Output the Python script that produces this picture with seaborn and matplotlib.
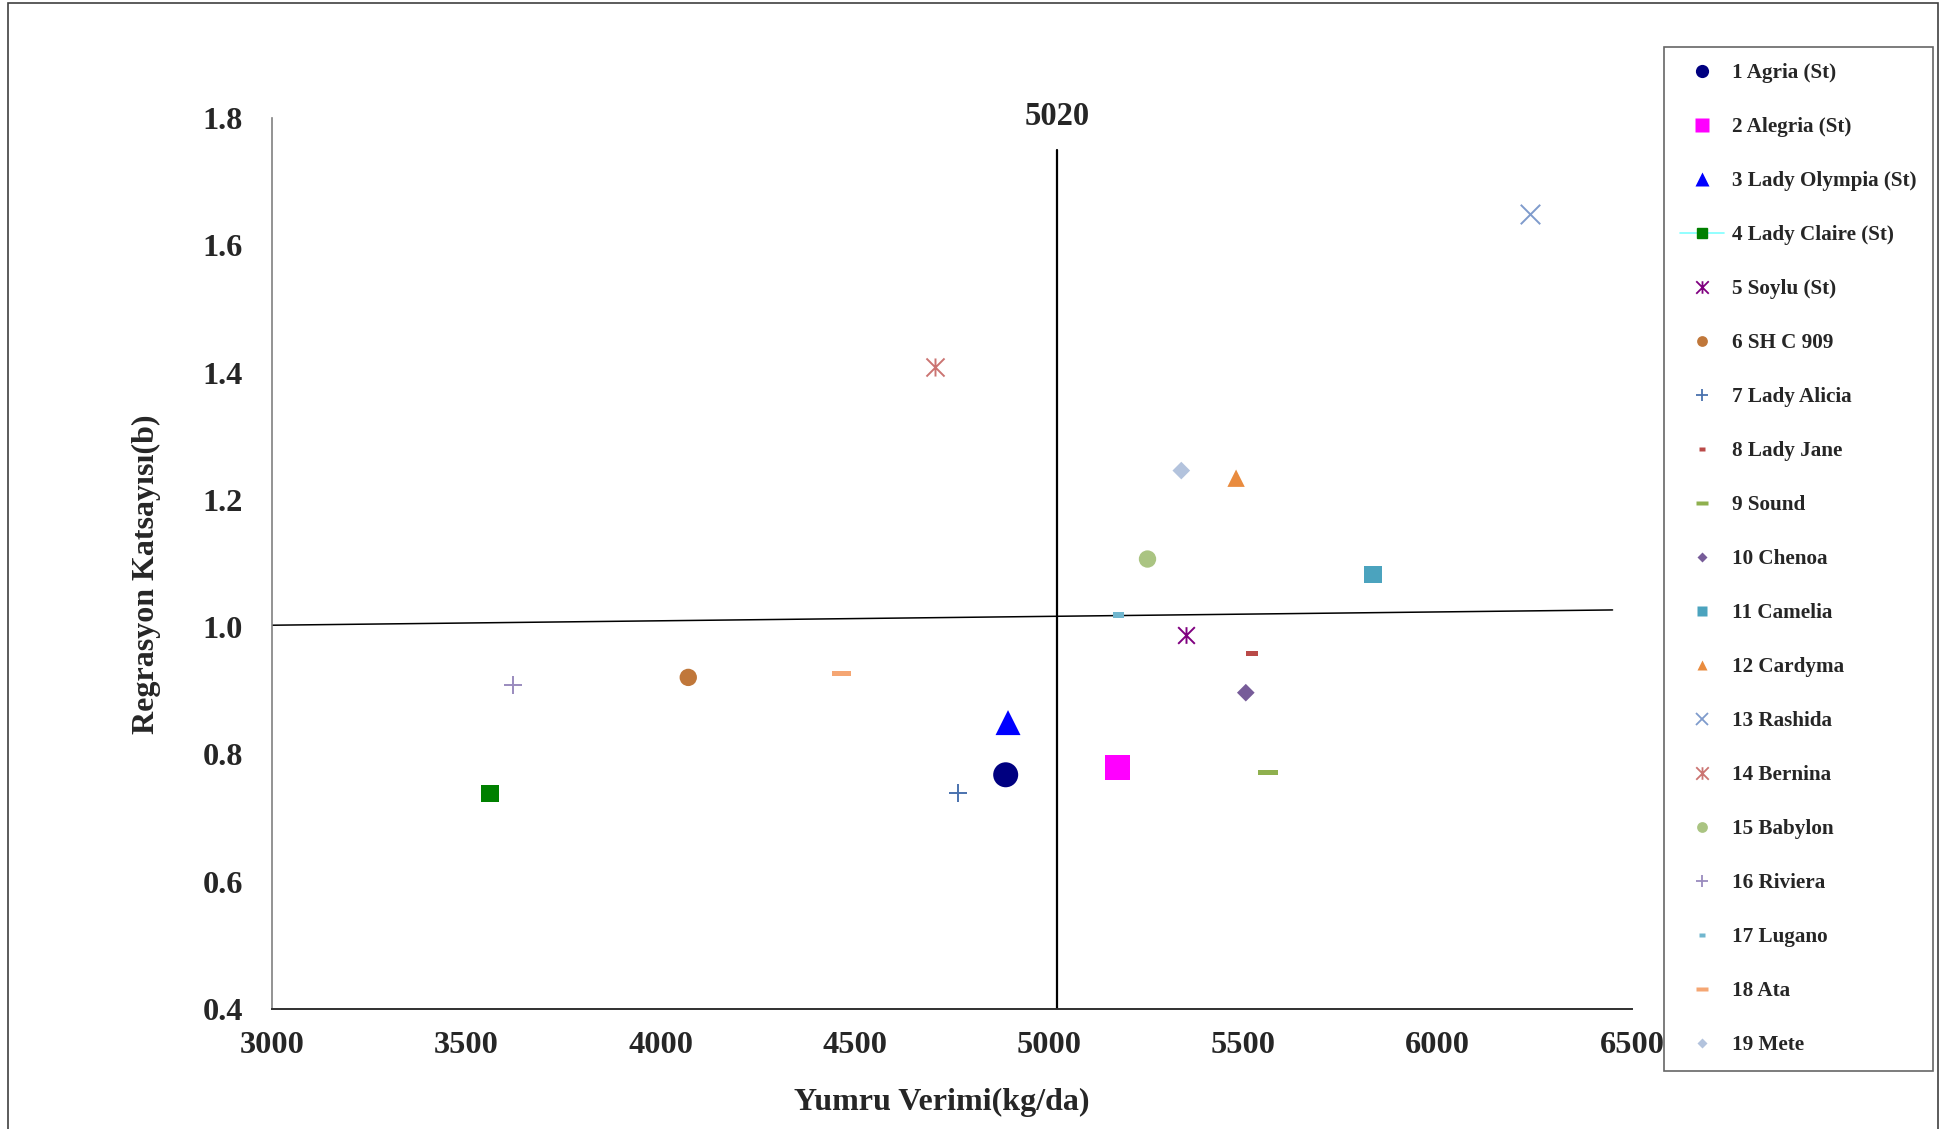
import matplotlib
matplotlib.use("Agg")
import matplotlib.pyplot as plt
import seaborn as sns
import numpy as np
import pandas as pd
from matplotlib.lines import Line2D
from matplotlib.path import Path
from matplotlib.patches import Rectangle

# cultivar names, yield (kg/da) and regression coefficient b
cultivars = ["1 Agria (St)", "2 Alegria (St)", "3 Lady Olympia (St)", "4 Lady Claire (St)",
             "5 Soylu (St)", "6 SH C 909", "7 Lady Alicia", "8 Lady Jane", "9 Sound",
             "10 Chenoa", "11 Camelia", "12 Cardyma", "13 Rashida", "14 Bernina",
             "15 Babylon", "16 Riviera", "17 Lugano", "18 Ata", "19 Mete"]
yield_kg = [4888, 5176, 4894, 3561, 5353, 4071, 4766, 5522, 5564,
            5506, 5833, 5481, 6237, 4705, 5253, 3619, 5179, 4465, 5340]
coef_b = [0.768, 0.780, 0.850, 0.739, 0.987, 0.921, 0.739, 0.958, 0.772,
          0.897, 1.083, 1.234, 1.649, 1.408, 1.107, 0.909, 1.019, 0.927, 1.246]

colors = ["#000080", "#FF00FF", "#0000FF", "#008000", "#800080", "#C0773A", "#4A72AE",
          "#BA4A48", "#8FB04E", "#775C99", "#4BA3BE", "#E98B3E", "#7F9BCC", "#CB7472",
          "#AAC482", "#9A8BBE", "#70B6CE", "#F5A673", "#B3C3DD"]

mean_yield = 5020
tick_x = [3000, 3500, 4000, 4500, 5000, 5500, 6000, 6500]
tick_y = [0.4, 0.6, 0.8, 1.0, 1.2, 1.4, 1.6, 1.8]
# reference line b~1 as drawn in the original
ref_x = [3000, 6450]
ref_y = [1.003, 1.027]

df = pd.DataFrame({"cultivar": cultivars, "yield": yield_kg, "b": coef_b, "color": colors})

# custom markers
asterisk = Path([(-1, -1), (1, 1), (-1, 1), (1, -1), (0, -1), (0, 1)],
                [Path.MOVETO, Path.LINETO, Path.MOVETO, Path.LINETO, Path.MOVETO, Path.LINETO])
dash_long = [(-1, -0.25), (1, -0.25), (1, 0.25), (-1, 0.25)]
dash_short = [(-1, -0.45), (1, -0.45), (1, 0.45), (-1, 0.45)]
lugano = [(-1, -0.55), (1, -0.55), (1, 0.55), (-1, 0.55)]

# marker, size in plot (pt), filled?
styles = [("o", 18, True), ("s", 18, True), ("^", 18, True), ("s", 12.5, True),
          (asterisk, 12, False), ("o", 12.5, True), ("+", 13, False), (dash_short, 8, True),
          (dash_long, 14.5, True), ("D", 9, True), ("s", 12.5, True), ("^", 12.5, True),
          ("x", 14, False), (asterisk, 13, False), ("o", 12.5, True), ("+", 13.5, False),
          (lugano, 8, True), (dash_long, 14, True), ("D", 9, True)]

sns.set_theme(style="white")
plt.rcParams['font.family'] = ['Liberation Serif', 'DejaVu Serif']
plt.rcParams['font.weight'] = 'bold'

fig = plt.figure(figsize=(19.44, 11.29), dpi=100)
ax = fig.add_axes([0.140, 0.1063, 0.6995, 0.7892])

for i, row in df.iterrows():
    mk, size, filled = styles[i]
    if filled:
        sns.scatterplot(x=[row["yield"]], y=[row["b"]], ax=ax, marker=mk, s=size ** 2,
                        color=row["color"], edgecolor="none", linewidth=0, zorder=3)
    else:
        sns.scatterplot(x=[row["yield"]], y=[row["b"]], ax=ax, marker=mk, s=size ** 2,
                        color=row["color"], edgecolor=row["color"], linewidth=1.4, zorder=3)

ax.plot([mean_yield, mean_yield], [0.4, 1.75], color="black", linewidth=1.6, zorder=2)
ax.plot(ref_x, ref_y, color="black", linewidth=1.1, zorder=2)
ax.text(mean_yield, 1.803, str(mean_yield), ha="center", va="center",
        fontsize=23.5, fontweight="bold")

ax.set_xlim(3000, 6500)
ax.set_ylim(0.4, 1.8)
ax.set_xticks(tick_x)
ax.set_yticks(tick_y)
ax.set_yticklabels([f"{v:.1f}" for v in tick_y])
ax.tick_params(axis="x", direction="out", length=11, width=1, color="#404040",
               pad=5, labelsize=23.3)
ax.tick_params(axis="y", direction="out", length=7, width=1, color="#808080",
               pad=14, labelsize=23.3)
for lab in ax.get_xticklabels() + ax.get_yticklabels():
    lab.set_fontweight("bold")

for side in ["top", "right"]:
    ax.spines[side].set_visible(False)
ax.spines["left"].set_color("#808080")
ax.spines["left"].set_linewidth(1.2)
ax.spines["bottom"].set_color("#303030")
ax.spines["bottom"].set_linewidth(1.4)

ax.set_xlabel("Yumru Verimi(kg/da)", fontsize=23, fontweight="bold")
ax.set_ylabel("Regrasyon Katsayısı(b)", fontsize=23, fontweight="bold")
ax.xaxis.set_label_coords(0.4927, -0.105)
ax.yaxis.set_label_coords(-0.0925, 0.488)
ax.xaxis.label.set_va("center")
ax.yaxis.label.set_va("center")

# legend handles
handles = []
for i, row in df.iterrows():
    mk, size, filled = styles[i]
    ms = min(size * 0.62, 9.5)
    if row["cultivar"].startswith("4 "):
        h = Line2D([], [], marker=mk, markersize=ms, color="#7FFFFF", linewidth=1.2,
                   markerfacecolor=row["color"], markeredgecolor=row["color"])
    elif filled:
        h = Line2D([], [], marker=mk, markersize=ms, linestyle="none",
                   markerfacecolor=row["color"], markeredgecolor="none")
    else:
        h = Line2D([], [], marker=mk, markersize=9, linestyle="none",
                   color=row["color"], markeredgewidth=1.3)
    handles.append(h)

leg = fig.legend(handles, cultivars, loc="upper left", bbox_to_anchor=(0.856, 0.958),
                 frameon=True, fancybox=False, fontsize=15.2, labelspacing=1.61,
                 handlelength=2.1, handletextpad=0.38, borderpad=0.75, borderaxespad=0)
leg.get_frame().set_edgecolor("#404040")
leg.get_frame().set_linewidth(1.2)
for t in leg.get_texts():
    t.set_fontweight("bold")

# outer chart frame
fig.patches.append(Rectangle((0.004, -0.01), 0.993, 1.007, transform=fig.transFigure,
                             fill=False, edgecolor="#404040", linewidth=1.2))

fig.savefig("out.png", dpi=100)
